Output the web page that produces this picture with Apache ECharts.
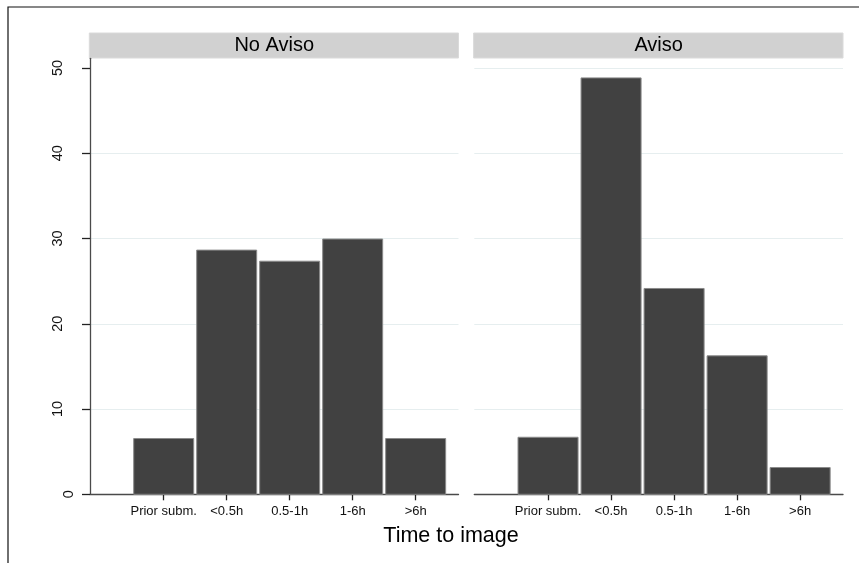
<!DOCTYPE html>
<html>
<head>
<meta charset="utf-8">
<script src="https://cdn.jsdelivr.net/npm/echarts@6/dist/echarts.min.js"></script>
<style>
html,body{margin:0;padding:0;background:#fff;}
#c{width:859px;height:563px;}
</style>
</head>
<body>
<div id="c"></div>
<script>
const categories = ['Prior subm.', '<0.5h', '0.5-1h', '1-6h', '>6h'];
const noAviso = [6.6, 28.7, 27.4, 30.0, 6.6];
const aviso = [6.75, 48.9, 24.2, 16.3, 3.2];
const yTicks = [0, 10, 20, 30, 40, 50];
const yLabelsUpper = [10, 20, 30, 40, 50];
const yLabelZero = [0];
const panelTitles = ['No Aviso', 'Aviso'];
const xTitle = 'Time to image';

const FONT = '"Liberation Sans", Arial, Helvetica, sans-serif';
const catIdx = categories.map((c, i) => i);

const grids = [
  { left: 90, top: 58.3, width: 368.5, bottom: 68.7 },
  { left: 474.3, top: 58.3, width: 368.7, bottom: 68.7 }
];

function xAxisFor(gi) {
  return {
    type: 'value', gridIndex: gi, min: -1.17, max: 4.68,
    axisLine: { show: true, onZero: false, lineStyle: { color: '#4a4a4a', width: 1.3 } },
    axisTick: { show: true, customValues: catIdx, length: 6, lineStyle: { color: '#222', width: 1.3 } },
    axisLabel: { show: true, customValues: catIdx, margin: 11, color: '#111', fontFamily: FONT, fontSize: 13,
      formatter: v => categories[Math.round(v)] },
    splitLine: { show: false }
  };
}
function yAxisBase(gi) {
  return { type: 'value', gridIndex: gi, position: 'left', min: 0, max: 51.14, interval: 10 };
}
const yMain = Object.assign(yAxisBase(0), {
  axisLine: { show: true, onZero: false, lineStyle: { color: '#4a4a4a', width: 1.3 } },
  axisTick: { show: true, customValues: yTicks, length: 8, lineStyle: { color: '#222', width: 1.3 } },
  axisLabel: { show: true, customValues: yLabelsUpper, rotate: 90, margin: 25, color: '#111',
    fontFamily: FONT, fontSize: 14.5, align: 'center', verticalAlign: 'bottom' },
  splitLine: { show: true, showMinLine: false, showMaxLine: false, lineStyle: { color: '#e6eeef', width: 1 } }
});
const yZero = Object.assign(yAxisBase(0), {
  axisLine: { show: false, onZero: false },
  axisTick: { show: false },
  axisLabel: { show: true, customValues: yLabelZero, rotate: 90, margin: 13.5, color: '#111',
    fontFamily: FONT, fontSize: 14.5, align: 'center', verticalAlign: 'bottom' },
  splitLine: { show: false }
});
const ySecond = Object.assign(yAxisBase(1), {
  axisLine: { show: false, onZero: false },
  axisTick: { show: false },
  axisLabel: { show: false },
  splitLine: { show: true, showMinLine: false, showMaxLine: false, lineStyle: { color: '#e6eeef', width: 1 } }
});

function barSeries(gi, values) {
  return {
    type: 'custom', xAxisIndex: gi, yAxisIndex: gi,
    data: values.map((v, i) => [i, v]),
    renderItem: function (params, api) {
      const x = api.value(0), y = api.value(1);
      const p0 = api.coord([x - 0.5, y]);
      const p1 = api.coord([x + 0.5, 0]);
      return {
        type: 'rect',
        shape: { x: p0[0] + 1.5, y: p0[1] + 0.5, width: p1[0] - p0[0] - 3, height: p1[1] - p0[1] - 0.5 },
        style: { fill: '#414141', stroke: '#8a8a8a', lineWidth: 1 }
      };
    }
  };
}

const chart = echarts.init(document.getElementById('c'), null, { renderer: 'canvas' });

const graphics = [
  { type: 'rect', shape: { x: 8, y: 7, width: 1000, height: 1000 }, style: { fill: 'none', stroke: '#111', lineWidth: 1.2 }, silent: true }
];
panelTitles.forEach((t, i) => {
  const g = grids[i];
  graphics.push({ type: 'rect', shape: { x: g.left - 0.7, y: 33, width: g.width + 0.7, height: 25 },
    style: { fill: '#d1d1d1', stroke: '#dadada', lineWidth: 1 }, silent: true });
  graphics.push({ type: 'text', x: g.left + g.width / 2, y: 45.5,
    style: { text: t, fill: '#000', font: '20px ' + FONT, textAlign: 'center', textVerticalAlign: 'middle' }, silent: true });
});
graphics.push({ type: 'text', x: 451, y: 536,
  style: { text: xTitle, fill: '#000', font: '21.5px ' + FONT, textAlign: 'center', textVerticalAlign: 'middle' }, silent: true });

chart.setOption({
  backgroundColor: '#fff',
  animation: false,
  grid: grids,
  xAxis: [xAxisFor(0), xAxisFor(1)],
  yAxis: [yMain, ySecond, yZero],
  series: [barSeries(0, noAviso), barSeries(1, aviso)],
  graphic: graphics
});
</script>
</body>
</html>
